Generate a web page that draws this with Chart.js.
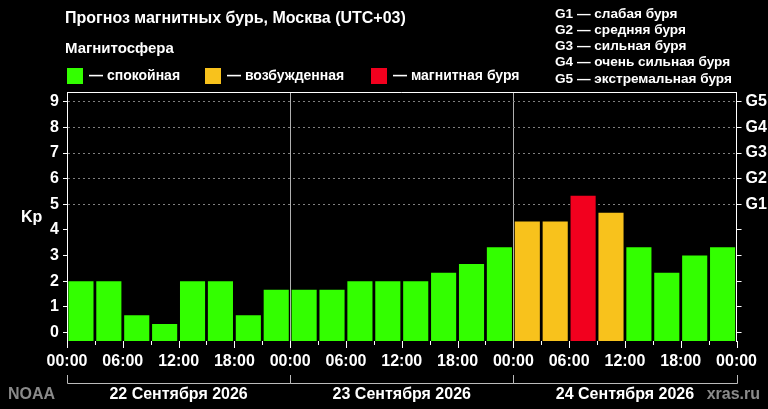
<!DOCTYPE html>
<html>
<head>
<meta charset="utf-8">
<script src="https://cdn.jsdelivr.net/npm/chart.js@4.4.1/dist/chart.umd.min.js"></script>
<style>
  html, body { margin: 0; padding: 0; background: #000; }
  #wrap { position: relative; width: 768px; height: 409px; }
</style>
</head>
<body>
<div id="wrap"><canvas id="kp-chart"></canvas></div>
<script>
// Прогноз Kp-индекса, трёхчасовые интервалы
var kp22 = [2, 2, 0.67, 0.33, 2, 2, 0.67, 1.67];
var kp23 = [1.67, 1.67, 2, 2, 2, 2.33, 2.67, 3.33];
var kp24 = [4.33, 4.33, 5.33, 4.67, 3.33, 2.33, 3, 3.33];
var dayLabels = ['22 Сентября 2026', '23 Сентября 2026', '24 Сентября 2026'];
var hourLabels = ['00:00', '06:00', '12:00', '18:00'];
var kpTicks = [0, 1, 2, 3, 4, 5, 6, 7, 8, 9];
var gLabels = ['G1', 'G2', 'G3', 'G4', 'G5'];
var gNotes = ['слабая буря', 'средняя буря', 'сильная буря', 'очень сильная буря', 'экстремальная буря'];
var stateNames = ['спокойная', 'возбужденная', 'магнитная буря'];

var GREEN = '#33ff00', ORANGE = '#f8c21c', RED = '#f2001e';
var FONT = '"Liberation Sans", Arial, sans-serif';
var Y_MIN = -0.33, Y_MAX = 9.38;

var allKp = kp22.concat(kp23, kp24);
var points = allKp.map(function (v, i) { return { x: i * 3 + 1.5, y: v }; });

function kpColor(v) {
  if (v >= 5) return RED;
  if (v >= 4) return ORANGE;
  return GREEN;
}

function setKpTicks(scale) {
  scale.ticks = kpTicks.map(function (v) { return { value: v }; });
}

// подписи, рамка, засечки и даты
var decor = {
  id: 'decor',
  afterDraw: function (chart) {
    var ctx = chart.ctx, a = chart.chartArea, xs = chart.scales.x;
    ctx.save();
    ctx.textBaseline = 'middle';
    ctx.fillStyle = '#fff';
    ctx.textAlign = 'left';
    ctx.font = 'bold 16px ' + FONT;
    ctx.fillText('Прогноз магнитных бурь, Москва (UTC+03)', 65, 19);
    ctx.font = 'bold 15px ' + FONT;
    ctx.fillText('Магнитосфера', 65, 49);

    var legX = [67, 205, 371];
    var legC = [GREEN, ORANGE, RED];
    ctx.font = 'bold 14px ' + FONT;
    for (var i = 0; i < 3; i++) {
      ctx.fillStyle = legC[i];
      ctx.fillRect(legX[i], 68, 16, 16);
      ctx.fillStyle = '#fff';
      ctx.fillText('— ' + stateNames[i], legX[i] + 22, 76);
    }

    ctx.font = 'bold 13.6px ' + FONT;
    for (var g = 0; g < gLabels.length; g++) {
      ctx.fillText(gLabels[g] + ' — ' + gNotes[g], 555, 14 + g * 16.2);
    }

    ctx.font = 'bold 16px ' + FONT;
    ctx.fillText('Kp', 21, 218);

    // верхняя граница
    ctx.strokeStyle = '#fff';
    ctx.lineWidth = 1;
    ctx.beginPath();
    ctx.moveTo(a.left, a.top + 0.5);
    ctx.lineTo(a.right, a.top + 0.5);
    ctx.stroke();

    // засечки каждые 3 часа
    ctx.beginPath();
    for (var h = 0; h <= 72; h += 3) {
      var px = Math.round(xs.getPixelForValue(h)) + 0.5;
      ctx.moveTo(px, a.bottom);
      ctx.lineTo(px, a.bottom + (h % 6 === 0 ? 7 : 4));
    }
    ctx.stroke();

    // скобки дней
    ctx.strokeStyle = '#bbb';
    ctx.beginPath();
    for (var d = 0; d < dayLabels.length; d++) {
      var x1 = Math.round(xs.getPixelForValue(d * 24)) + 0.5;
      var x2 = Math.round(xs.getPixelForValue(d * 24 + 24)) + 0.5;
      ctx.moveTo(x1, 375);
      ctx.lineTo(x1, 383.5);
      ctx.lineTo(x2, 383.5);
      ctx.lineTo(x2, 375);
    }
    ctx.stroke();

    ctx.textAlign = 'center';
    ctx.fillStyle = '#fff';
    for (var k = 0; k < dayLabels.length; k++) {
      ctx.fillText(dayLabels[k], xs.getPixelForValue(k * 24 + 12), 395);
    }

    ctx.fillStyle = '#8a8a8a';
    ctx.textAlign = 'left';
    ctx.fillText('NOAA', 8, 395);
    ctx.textAlign = 'right';
    ctx.fillText('xras.ru', 760, 395);
    ctx.restore();
  }
};

var kpCtx = document.getElementById('kp-chart').getContext('2d');
var kpChart = new Chart(kpCtx, {
  type: 'bar',
  data: {
    datasets: [{
      label: 'Kp',
      data: points,
      base: Y_MIN,
      backgroundColor: function (c) { return kpColor(c.raw ? c.raw.y : 0); },
      borderWidth: 0,
      barPercentage: 0.9,
      categoryPercentage: 1
    }]
  },
  plugins: [decor],
  options: {
    responsive: true,
    maintainAspectRatio: false,
    animation: false,
    layout: { padding: { top: 92, left: 0, right: 0, bottom: 0 } },
    plugins: {
      legend: { display: false },
      tooltip: { enabled: false }
    },
    scales: {
      x: {
        type: 'linear',
        min: 0,
        max: 72,
        offset: false,
        afterBuildTicks: function (scale) {
          var t = [];
          for (var h = 0; h <= 72; h += 6) t.push({ value: h });
          scale.ticks = t;
        },
        afterFit: function (scale) { scale.height = 68; },
        ticks: {
          color: '#fff',
          font: { family: FONT, size: 16, weight: 'bold' },
          padding: 11,
          maxRotation: 0,
          autoSkip: false,
          callback: function (v) { return hourLabels[(v % 24) / 6]; }
        },
        grid: {
          offset: false,
          drawTicks: false,
          color: function (c) {
            var v = c.tick ? c.tick.value : 0;
            return (v === 24 || v === 48) ? '#b0b0b0' : 'rgba(0,0,0,0)';
          }
        },
        border: { display: false }
      },
      y: {
        position: 'left',
        min: Y_MIN,
        max: Y_MAX,
        afterBuildTicks: setKpTicks,
        afterFit: function (scale) { scale.width = 67; },
        ticks: {
          color: '#fff',
          font: { family: FONT, size: 16, weight: 'bold' },
          padding: 4
        },
        grid: {
          tickLength: 4,
          tickColor: '#fff',
          color: function (c) {
            return c.tick && c.tick.value >= 5 ? '#808080' : 'rgba(0,0,0,0)';
          }
        },
        border: { display: true, color: '#fff', width: 1, dash: [2, 3] }
      },
      g: {
        position: 'right',
        min: Y_MIN,
        max: Y_MAX,
        afterBuildTicks: setKpTicks,
        afterFit: function (scale) { scale.width = 31; },
        ticks: {
          color: '#fff',
          font: { family: FONT, size: 16, weight: 'bold' },
          padding: 4,
          callback: function (v) { return v >= 5 ? gLabels[v - 5] : ''; }
        },
        grid: { drawOnChartArea: false, tickLength: 5, tickColor: '#fff' },
        border: { display: true, color: '#fff', width: 1 }
      }
    }
  }
});
</script>
</body>
</html>
